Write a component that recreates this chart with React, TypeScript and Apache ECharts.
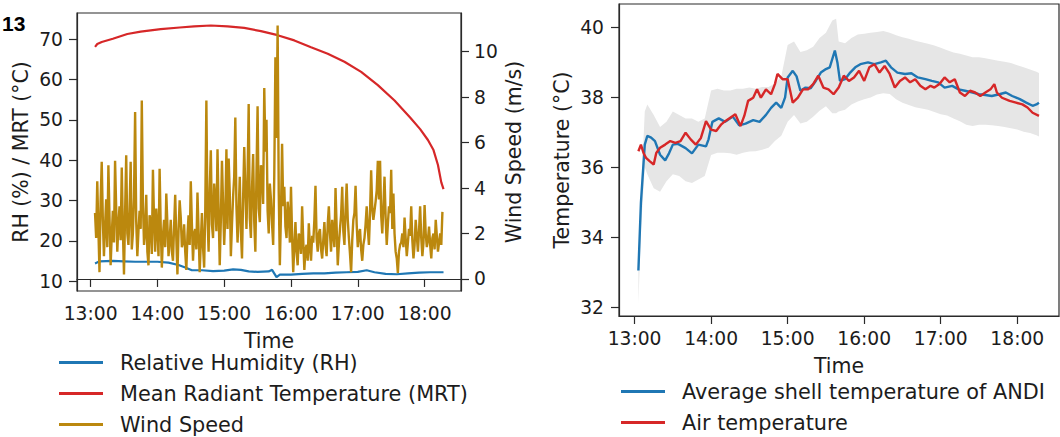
import { useEffect, useRef } from "react";
import * as echarts from "echarts";

// ---------- tick labels ----------
const timeTicks = ["13:00", "14:00", "15:00", "16:00", "17:00", "18:00"];
const leftYTicks = [10, 20, 30, 40, 50, 60, 70];
const windTicks = [0, 2, 4, 6, 8, 10];
const tempTicks = [32, 34, 36, 38, 40];

// ---------- left panel ----------
const rhTimes = ["13:04", "13:08", "13:20", "13:30", "13:40", "13:50", "14:00", "14:10", "14:19", "14:25", "14:31", "14:40", "14:50", "15:00", "15:08", "15:15", "15:22", "15:30", "15:40", "15:43", "15:47", "15:50", "16:00", "16:10", "16:20", "16:30", "16:40", "16:50", "17:00", "17:08", "17:15", "17:25", "17:35", "17:45", "17:55", "18:05", "18:17"];
const rhValues = [14.4, 14.9, 15.0, 14.9, 14.8, 14.8, 14.8, 14.6, 14.0, 13.4, 12.7, 12.7, 12.5, 12.6, 12.9, 12.8, 12.4, 12.3, 12.4, 12.8, 11.0, 11.6, 11.6, 11.8, 11.9, 11.9, 12.1, 12.2, 12.3, 12.7, 12.2, 11.8, 11.7, 11.9, 12.1, 12.2, 12.2];

const mrtTimes = ["13:04", "13:06", "13:10", "13:20", "13:33", "13:45", "14:03", "14:20", "14:33", "14:48", "15:03", "15:18", "15:33", "15:48", "16:03", "16:18", "16:33", "16:48", "17:03", "17:18", "17:33", "17:47", "17:56", "18:03", "18:08", "18:12", "18:15", "18:17"];
const mrtValues = [68.1, 68.8, 69.3, 70.1, 71.3, 71.9, 72.5, 72.9, 73.2, 73.4, 73.2, 72.8, 72.0, 71.0, 69.7, 68.0, 66.4, 64.4, 61.9, 58.6, 54.8, 50.6, 47.7, 45.0, 42.5, 38.8, 34.5, 32.8];

// wind speed, one reading per minute from 13:04
const windStart = "13:04";
const windStepMinutes = 1;
const windValues = [
  2.9, 1.8, 4.3, 2.2, 0.3, 3.4, 5.15, 2.6, 1.0, 2.3,
  3.5, 1.4, 5.0, 2.7, 0.6, 1.9, 3.0, 1.6, 5.2, 3.1,
  1.2, 2.4, 3.2, 1.7, 4.9, 2.2, 0.2, 2.9, 5.44, 2.0,
  1.5, 3.0, 5.15, 1.3, 2.0, 3.6, 7.34, 2.5, 1.0, 2.1,
  3.0, 2.2, 7.85, 3.4, 1.5, 2.0, 3.7, 1.2, 0.6, 2.8,
  2.5, 1.1, 4.8, 2.6, 1.2, 3.1, 2.2, 1.0, 4.85, 2.3,
  0.5, 1.9, 2.6, 1.4, 3.76, 2.4, 1.0, 1.7, 2.6, 1.2,
  0.8, 2.3, 3.7, 1.8, 0.2, 2.1, 3.46, 2.7, 1.4, 1.6,
  2.4, 1.2, 0.4, 1.9, 2.8, 1.5, 4.3, 2.4, 0.8, 2.0,
  2.2, 1.3, 3.8, 2.1, 0.3, 1.6, 2.9, 1.4, 0.5, 3.0,
  7.85, 2.8, 1.2, 3.9, 5.66, 2.4, 1.8, 4.2, 3.5, 2.1,
  5.7, 3.0, 0.6, 2.6, 5.2, 3.3, 1.5, 2.8, 5.7, 2.2,
  5.3, 3.8, 1.0, 2.4, 3.6, 4.5, 7.1, 3.2, 1.6, 2.9,
  4.5, 2.1, 0.9, 3.5, 5.8, 3.9, 2.2, 4.4, 7.7, 2.7,
  1.8, 4.0, 5.5, 2.5, 1.2, 4.6, 7.6, 3.1, 2.5, 5.0,
  4.8, 3.3, 8.4, 5.6, 7.0, 3.0, 2.0, 4.2, 3.5, 2.4,
  1.5, 4.6, 9.75, 6.2, 11.15, 3.8, 0.6, 2.9, 5.95, 3.2,
  4.05, 2.3, 1.8, 3.4, 2.8, 1.6, 4.05, 1.9, 0.3, 1.4,
  2.5, 1.2, 0.6, 2.0, 1.8, 1.1, 3.2, 1.7, 0.4, 1.3,
  1.5, 0.8, 2.45, 1.4, 0.8, 1.9, 1.6, 2.6, 4.1, 1.8,
  1.2, 2.0, 2.2, 1.3, 0.9, 1.7, 2.5, 1.5, 1.0, 2.4,
  3.2, 2.0, 1.2, 2.6, 2.0, 1.4, 4.0, 2.3, 0.6, 1.5,
  2.2, 2.8, 4.05, 2.1, 1.5, 3.0, 4.2, 2.6, 1.8, 1.1,
  0.3, 1.7, 2.6, 2.9, 4.1, 2.4, 1.4, 2.0, 2.2, 1.3,
  0.8, 1.5, 1.8, 2.4, 3.2, 2.2, 1.5, 2.9, 4.78, 3.1,
  2.6, 3.0, 3.4, 3.9, 5.2, 3.5, 5.2, 2.8, 2.0, 3.2,
  4.5, 2.7, 1.5, 2.4, 3.2, 2.9, 4.8, 2.2, 3.76, 2.0,
  1.2, 0.9, 0.26, 1.2, 1.5, 1.6, 2.0, 1.4, 2.7, 1.8,
  1.0, 1.6, 2.2, 1.9, 3.2, 1.7, 0.9, 1.5, 2.6, 1.9,
  1.2, 2.1, 3.2, 1.8, 1.0, 1.6, 3.25, 2.0, 1.4, 1.7,
  2.3, 1.5, 0.9, 1.8, 2.0, 1.3, 2.6, 1.9, 1.2, 1.6,
  2.0, 1.5, 2.95,
];

// ---------- right panel ----------
const andiTimes = ["13:03", "13:05", "13:08", "13:10", "13:13", "13:16", "13:20", "13:24", "13:27", "13:30", "13:34", "13:40", "13:45", "13:50", "13:56", "13:58", "14:01", "14:06", "14:11", "14:17", "14:22", "14:27", "14:33", "14:38", "14:43", "14:47", "14:51", "14:55", "14:58", "15:00", "15:04", "15:07", "15:10", "15:14", "15:18", "15:22", "15:26", "15:30", "15:33", "15:37", "15:39", "15:41", "15:45", "15:49", "15:53", "15:57", "16:03", "16:08", "16:13", "16:17", "16:21", "16:26", "16:32", "16:37", "16:42", "16:48", "16:53", "16:58", "17:03", "17:09", "17:14", "17:19", "17:25", "17:30", "17:35", "17:40", "17:46", "17:51", "17:56", "18:02", "18:07", "18:12", "18:15", "18:17"];
const andiValues = [33.05, 35.0, 36.65, 36.9, 36.85, 36.75, 36.36, 36.2, 36.4, 36.65, 36.67, 36.55, 36.4, 36.65, 36.6, 36.8, 37.3, 37.4, 37.3, 37.45, 37.2, 37.25, 37.35, 37.3, 37.5, 37.7, 37.85, 37.7, 38.0, 38.57, 38.76, 38.6, 38.19, 38.28, 38.26, 38.47, 38.71, 38.81, 38.86, 39.34, 39.0, 38.47, 38.52, 38.71, 38.86, 38.95, 39.0, 38.95, 39.0, 39.05, 38.86, 38.71, 38.67, 38.69, 38.57, 38.52, 38.47, 38.43, 38.28, 38.33, 38.23, 38.19, 38.14, 38.09, 38.07, 38.04, 38.09, 38.14, 38.04, 37.95, 37.85, 37.76, 37.8, 37.85];

const airTimes = ["13:03", "13:05", "13:07", "13:09", "13:12", "13:15", "13:17", "13:20", "13:24", "13:28", "13:32", "13:36", "13:40", "13:44", "13:48", "13:52", "13:56", "14:00", "14:04", "14:08", "14:11", "14:15", "14:19", "14:23", "14:26", "14:29", "14:33", "14:36", "14:39", "14:43", "14:47", "14:50", "14:52", "14:56", "15:00", "15:04", "15:08", "15:12", "15:16", "15:20", "15:24", "15:28", "15:32", "15:36", "15:40", "15:44", "15:48", "15:52", "15:56", "16:00", "16:04", "16:08", "16:12", "16:16", "16:20", "16:24", "16:28", "16:32", "16:36", "16:40", "16:44", "16:48", "16:52", "16:55", "16:59", "17:03", "17:07", "17:11", "17:15", "17:19", "17:23", "17:27", "17:31", "17:35", "17:39", "17:42", "17:44", "17:48", "17:54", "17:59", "18:04", "18:08", "18:12", "18:17"];
const airValues = [36.46, 36.65, 36.41, 36.27, 36.17, 36.08, 36.41, 36.56, 36.65, 36.75, 36.7, 36.75, 36.99, 36.8, 36.65, 36.84, 37.32, 37.08, 37.04, 37.23, 37.32, 37.42, 37.52, 37.18, 37.47, 37.9, 37.99, 38.23, 37.99, 38.23, 38.09, 38.38, 38.67, 38.52, 38.52, 37.85, 37.99, 38.23, 38.23, 38.38, 38.62, 38.28, 38.23, 38.09, 38.28, 38.62, 38.47, 38.57, 38.76, 38.47, 38.86, 38.95, 38.71, 38.9, 38.67, 38.28, 38.47, 38.57, 38.43, 38.52, 38.33, 38.23, 38.33, 38.28, 38.38, 38.57, 38.43, 38.52, 38.14, 38.04, 38.19, 38.14, 38.04, 38.14, 38.23, 38.38, 38.14, 37.99, 37.9, 37.85, 37.8, 37.71, 37.56, 37.47];

const bandTimes = ["13:03", "13:05", "13:08", "13:10", "13:15", "13:20", "13:25", "13:30", "13:35", "13:40", "13:45", "13:50", "13:55", "14:00", "14:05", "14:10", "14:15", "14:20", "14:25", "14:30", "14:35", "14:40", "14:45", "14:50", "14:55", "15:00", "15:05", "15:10", "15:15", "15:20", "15:25", "15:30", "15:35", "15:38", "15:40", "15:45", "15:50", "15:55", "16:00", "16:05", "16:10", "16:15", "16:20", "16:25", "16:30", "16:35", "16:40", "16:45", "16:50", "16:55", "17:00", "17:05", "17:10", "17:15", "17:20", "17:25", "17:30", "17:35", "17:40", "17:45", "17:50", "17:55", "18:00", "18:05", "18:10", "18:15", "18:17"];
const bandUpper = [33.5, 35.2, 37.6, 37.8, 37.5, 37.15, 37.3, 37.6, 37.5, 37.4, 37.4, 37.3, 37.4, 38.2, 38.25, 38.2, 38.2, 38.25, 38.25, 38.28, 38.25, 38.3, 38.3, 38.4, 38.6, 39.5, 39.6, 39.3, 39.35, 39.45, 39.7, 39.85, 40.2, 40.25, 39.6, 39.55, 39.7, 39.8, 39.82, 39.85, 39.87, 39.9, 39.85, 39.78, 39.72, 39.68, 39.62, 39.58, 39.53, 39.48, 39.42, 39.35, 39.28, 39.25, 39.2, 39.15, 39.15, 39.12, 39.08, 39.05, 39.02, 38.98, 38.92, 38.86, 38.8, 38.73, 38.7];
const bandLower = [32.1, 34.2, 36.0, 35.8, 35.4, 35.3, 35.6, 35.8, 35.75, 35.6, 35.55, 35.65, 35.75, 36.35, 36.42, 36.42, 36.4, 36.36, 36.42, 36.45, 36.46, 36.5, 36.56, 36.75, 36.9, 37.3, 37.5, 37.25, 37.3, 37.45, 37.62, 37.75, 37.55, 37.55, 37.6, 37.65, 37.8, 37.88, 37.95, 38.0, 38.08, 38.12, 38.1, 37.95, 37.85, 37.78, 37.72, 37.68, 37.65, 37.58, 37.52, 37.48, 37.4, 37.32, 37.22, 37.18, 37.22, 37.22, 37.2, 37.18, 37.15, 37.12, 37.08, 37.02, 36.98, 36.92, 36.88];

// ---------- helpers ----------
const toMin = (s: string) => {
  const [h, m] = s.split(":").map(Number);
  return h * 60 + m;
};
const fmtTime = (v: number) => {
  const h = Math.floor(v / 60);
  const m = Math.round(v - h * 60);
  return `${h}:${String(m).padStart(2, "0")}`;
};
const pairs = (times: string[], vals: number[]) => times.map((t, i) => [toMin(t), vals[i]]);

const FONT = '"DejaVu Sans", "Noto Sans", sans-serif';
const TXT = "#1c1c1c";
const AX = "#2a2a2a";
const BLUE = "#1f77b4";
const RED = "#d62728";
const GOLD = "#bb880e";

const tickMins = timeTicks.map(toMin);

function xAxisFor(gridIndex: number, nameGap: number, labelMargin: number) {
  return {
    type: "value",
    gridIndex,
    min: 767.8,
    max: 1112.7,
    name: "Time",
    nameLocation: "middle",
    nameGap,
    nameTextStyle: { fontSize: 20.5, color: TXT, fontFamily: FONT },
    axisLine: { show: true, lineStyle: { color: AX, width: 1.2 } },
    axisTick: { show: true, length: 8, customValues: tickMins, lineStyle: { color: AX, width: 1.2 } },
    axisLabel: { customValues: tickMins, formatter: (v: number) => fmtTime(v), fontSize: 18.7, color: TXT, fontFamily: FONT, margin: labelMargin },
    splitLine: { show: false },
  };
}

export default function App() {
  const ref = useRef<HTMLDivElement>(null);
  useEffect(() => {
    if (!ref.current) return;
    const chart = echarts.init(ref.current, null, { renderer: "svg" });
    const windData = windValues.map((v, i) => [toMin(windStart) + i * windStepMinutes, v]);
    const bandData = bandTimes.map((t, i) => [toMin(t), bandLower[i], bandUpper[i]]);

    chart.setOption({
      animation: false,
      backgroundColor: "#ffffff",
      grid: [
        { left: 77, top: 13, width: 384, height: 278, show: true, borderColor: AX, borderWidth: 1.2, backgroundColor: "transparent" },
        { left: 619, top: 4, width: 440, height: 312, show: true, borderColor: AX, borderWidth: 1.2, backgroundColor: "transparent" },
      ],
      xAxis: [xAxisFor(0, 39, 13), xAxisFor(1, 39, 13)],
      yAxis: [
        {
          type: "value", gridIndex: 0, position: "left", min: 7.55, max: 76.5,
          name: "RH (%) / MRT (°C)", nameLocation: "middle", nameGap: 46,
          nameTextStyle: { fontSize: 20.5, color: TXT, fontFamily: FONT },
          axisLine: { show: true, lineStyle: { color: AX, width: 1.2 } },
          axisTick: { show: true, length: 8, customValues: leftYTicks, lineStyle: { color: AX, width: 1.2 } },
          axisLabel: { customValues: leftYTicks, fontSize: 18.7, color: TXT, fontFamily: FONT, margin: 14 },
          splitLine: { show: false },
        },
        {
          type: "value", gridIndex: 0, position: "right", min: -0.53, max: 11.7,
          name: "Wind Speed (m/s)", nameLocation: "middle", nameGap: 42,
          nameTextStyle: { fontSize: 20.5, color: TXT, fontFamily: FONT },
          axisLine: { show: true, lineStyle: { color: AX, width: 1.2 } },
          axisTick: { show: true, length: 8, customValues: windTicks, lineStyle: { color: AX, width: 1.2 } },
          axisLabel: { customValues: windTicks, fontSize: 18.7, color: TXT, fontFamily: FONT, margin: 13 },
          splitLine: { show: false },
        },
        {
          type: "value", gridIndex: 1, position: "left", min: 31.75, max: 40.67,
          name: "Temperature (°C)", nameLocation: "middle", nameGap: 47,
          nameTextStyle: { fontSize: 20.5, color: TXT, fontFamily: FONT },
          axisLine: { show: true, lineStyle: { color: AX, width: 1.2 } },
          axisTick: { show: true, length: 8, customValues: tempTicks, lineStyle: { color: AX, width: 1.2 } },
          axisLabel: { customValues: tempTicks, fontSize: 18.7, color: TXT, fontFamily: FONT, margin: 15 },
          splitLine: { show: false },
        },
      ],
      legend: [
        {
          orient: "vertical", left: 59, top: 352, padding: 0, itemGap: 10,
          itemWidth: 44, itemHeight: 3, icon: "rect", selectedMode: false,
          textStyle: { fontSize: 20.8, color: TXT, fontFamily: FONT, lineHeight: 21, padding: [0, 0, 0, 12] },
          data: ["Relative Humidity (RH)", "Mean Radiant Temperature (MRT)", "Wind Speed"],
        },
        {
          orient: "vertical", left: 621, top: 381, padding: 0, itemGap: 10,
          itemWidth: 44, itemHeight: 3, icon: "rect", selectedMode: false,
          textStyle: { fontSize: 20.8, color: TXT, fontFamily: FONT, lineHeight: 21, padding: [0, 0, 0, 12] },
          data: ["Average shell temperature of ANDI", "Air temperature"],
        },
      ],
      graphic: [
        { type: "text", left: 2, top: 13, style: { text: "13", font: 'bold 21px "Liberation Sans", Arial, sans-serif', fill: "#000" } },
      ],
      series: [
        {
          name: "Relative Humidity (RH)", type: "line", xAxisIndex: 0, yAxisIndex: 0,
          data: pairs(rhTimes, rhValues), showSymbol: false, symbol: "none",
          lineStyle: { color: BLUE, width: 2.2 }, itemStyle: { color: BLUE },
        },
        {
          name: "Mean Radiant Temperature (MRT)", type: "line", xAxisIndex: 0, yAxisIndex: 0,
          data: pairs(mrtTimes, mrtValues), showSymbol: false, symbol: "none",
          lineStyle: { color: RED, width: 2.2 }, itemStyle: { color: RED },
        },
        {
          name: "Wind Speed", type: "line", xAxisIndex: 0, yAxisIndex: 1,
          data: windData, showSymbol: false, symbol: "none",
          lineStyle: { color: GOLD, width: 2.4 }, itemStyle: { color: GOLD },
        },
        {
          name: "ANDI spread", type: "custom", xAxisIndex: 1, yAxisIndex: 2,
          data: bandData, silent: true, encode: { x: 0, y: [1, 2] },
          renderItem: (params: any, api: any) => {
            if (params.dataIndex !== 0) return null;
            const upperPts = bandData.map((d) => api.coord([d[0], d[2]]));
            const lowerPts = bandData.map((d) => api.coord([d[0], d[1]])).reverse();
            return {
              type: "polygon",
              shape: { points: upperPts.concat(lowerPts) },
              style: { fill: "#e6e6e6", stroke: "none" },
            };
          },
        },
        {
          name: "Average shell temperature of ANDI", type: "line", xAxisIndex: 1, yAxisIndex: 2,
          data: pairs(andiTimes, andiValues), showSymbol: false, symbol: "none",
          lineStyle: { color: BLUE, width: 2.4 }, itemStyle: { color: BLUE },
        },
        {
          name: "Air temperature", type: "line", xAxisIndex: 1, yAxisIndex: 2,
          data: pairs(airTimes, airValues), showSymbol: false, symbol: "none",
          lineStyle: { color: RED, width: 2.4 }, itemStyle: { color: RED },
        },
      ],
    });
    return () => chart.dispose();
  }, []);

  return (
    <div
      ref={ref}
      style={{ position: "fixed", left: 0, top: 0, width: 1060, height: 437, background: "#fff" }}
    />
  );
}
